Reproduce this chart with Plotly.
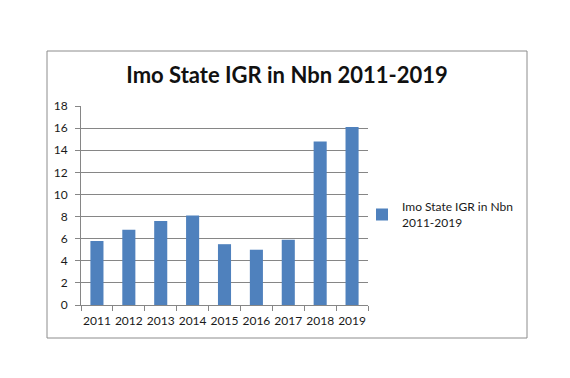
import plotly.graph_objects as go

years = ["2011", "2012", "2013", "2014", "2015", "2016", "2017", "2018", "2019"]
igr = [5.8, 6.8, 7.6, 8.1, 5.5, 5.0, 5.9, 14.8, 16.1]
series_name = "Imo State IGR in Nbn<br>2011-2019"
title_text = "Imo State IGR in Nbn 2011-2019"
y_ticks = [0, 2, 4, 6, 8, 10, 12, 14, 16, 18]

OFF = 8  # default page body margin
W, H = 570 - 2 * OFF, 378 - 2 * OFF
L, R, T, B = 81 - OFF, 368 - OFF, 106 - OFF, 305 - OFF

def px_x(x):
    return (x - OFF - L) / (R - L)

def px_y(y):
    return (B - (y - OFF)) / (B - T)

fig = go.Figure(go.Bar(x=years, y=igr, name=series_name, marker_color="#4F81BD",
                       marker_line_width=0, showlegend=True))

fig.update_layout(
    width=W, height=H,
    margin=dict(l=L, r=W - R, t=T, b=H - B, pad=0),
    paper_bgcolor="white", plot_bgcolor="white",
    bargap=0.59,
    font=dict(family="Lato, Open Sans, sans-serif", size=12, color="#1a1a1a"),
    title=dict(text="<b>" + title_text + "</b>", x=(287 - OFF) / W, xanchor="center",
               y=1 - (75 - OFF) / H, yanchor="middle",
               font=dict(size=22, color="#111111", family="Lato, Open Sans, sans-serif")),
    showlegend=True,
    legend=dict(x=px_x(362), xanchor="left", y=px_y(215), yanchor="middle",
                font=dict(size=12, color="#1a1a1a"), itemwidth=30,
                bgcolor="rgba(0,0,0,0)"),
    xaxis=dict(showline=True, linecolor="#868686", linewidth=1, ticks="outside",
               tickson="boundaries", ticklen=5, tickcolor="#868686", showgrid=False,
               tickangle=0, tickfont=dict(size=12), fixedrange=True,
               ticklabelstandoff=5),
    yaxis=dict(range=[0, 18], tickvals=y_ticks, showline=True, linecolor="#868686",
               linewidth=1, ticks="outside", ticklen=5, tickcolor="#868686",
               showgrid=True, gridcolor="#868686", gridwidth=1, zeroline=False,
               tickfont=dict(size=12), ticklabelstandoff=5),
    shapes=[dict(type="rect", xref="paper", yref="paper",
                 x0=px_x(47), x1=px_x(527), y0=px_y(338), y1=px_y(51),
                 line=dict(color="#8c8c8c", width=1), fillcolor="rgba(0,0,0,0)",
                 layer="below")],
)

fig.write_html("out.html")
